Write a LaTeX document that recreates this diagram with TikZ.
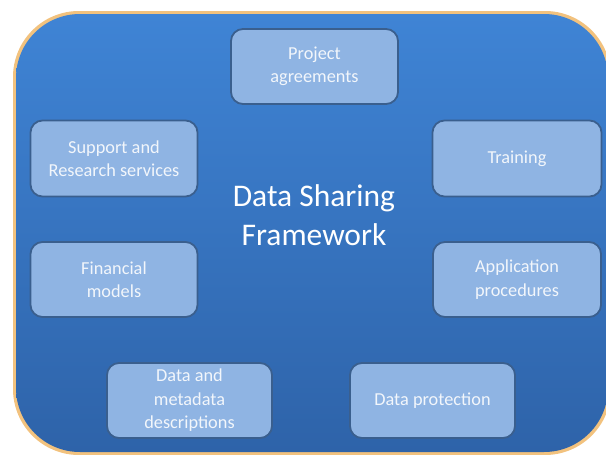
\documentclass[tikz,border=0pt]{standalone}
\usepackage{fontspec}
\setmainfont{Carlito}
\definecolor{bgtop}{HTML}{3F84D5}
\definecolor{bgbot}{HTML}{2E63A9}
\definecolor{boxfill}{HTML}{8FB4E3}
\definecolor{boxline}{HTML}{3A5F8E}
\definecolor{txt}{HTML}{F2F6FB}
\definecolor{rim}{HTML}{F2C27E}
\begin{document}
\begin{tikzpicture}[x=1pt,y=-1pt,
  itembox/.style={draw=boxline, line width=1.8pt, fill=boxfill, rounded corners=12pt,
    align=center, text=txt, font=\fontsize{18.3}{23.5}\selectfont, inner sep=0pt},
  title/.style={align=center, text=white, font=\fontsize{31.5}{38.5}\selectfont}]
\useasboundingbox (0,0) rectangle (606,455);
% outer frame
\fill[rim, rounded corners=66pt] (13,11) rectangle (611,455);
\shade[top color=bgtop, bottom color=bgbot, rounded corners=64pt] (16,14) rectangle (608,452);
% nodes
\node[itembox, minimum width=167pt, minimum height=75pt] (proj) at (314.5,66.5) {Project\\agreements};
\node[itembox, minimum width=167pt, minimum height=76pt] (supp) at (114,158.5) {Support and\\Research services};
\node[itembox, minimum width=169pt, minimum height=76pt] (train) at (517,158.5) {Training};
\node[itembox, minimum width=167pt, minimum height=75pt] (fin) at (114,279.5) {Financial\\models};
\node[itembox, minimum width=168pt, minimum height=75pt] (app) at (517,279.5) {Application\\procedures};
\node[itembox, minimum width=165pt, minimum height=75pt] (dmd) at (189.5,400.5) {Data and\\metadata\\descriptions};
\node[itembox, minimum width=165pt, minimum height=75pt] (dp) at (432.5,400.5) {Data protection};
\node[title] (ttl) at (314,215) {Data Sharing\\Framework};
\end{tikzpicture}
\end{document}
